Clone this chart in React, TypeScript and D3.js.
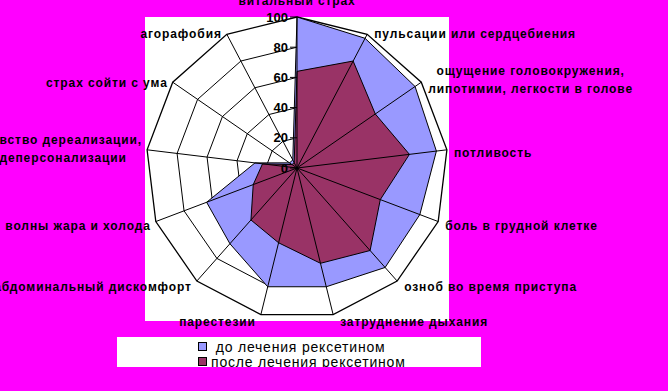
import React from "react";
import * as d3 from "d3";

// radar categories (multi-line labels as arrays of lines)
const categories: string[][] = [
  ["витальный страх"],
  ["пульсации или сердцебиения"],
  ["ощущение головокружения,", "липотимии, легкости в голове"],
  ["потливость"],
  ["боль в грудной клетке"],
  ["озноб во время приступа"],
  ["затруднение дыхания"],
  ["парестезии"],
  ["абдоминальный дискомфорт"],
  ["волны жара и холода"],
  ["чувство дереализации,", "деперсонализации"],
  ["страх сойти с ума"],
  ["агорафобия"],
];
const beforeValues = [100, 97, 95, 93, 87, 88, 81, 81, 67, 64, 28, 6, 6];
const afterValues = [64, 80, 63, 75, 59, 73, 65, 51, 46, 31, 23, 4, 4];
const tickValues = [0, 20, 40, 60, 80, 100];
const seriesNames = [" до лечения рексетином", "после лечения рексетином"];
const seriesColors = ["#9999FF", "#993366"];

const W = 668;
const H = 391;

const App = () => {
  const svgRef = React.useRef<SVGSVGElement>(null);

  React.useEffect(() => {
    const svg = d3.select(svgRef.current);
    svg.selectAll("*").remove();

    const cx = 297;
    const cy = 168;
    const R = 151;
    const n = categories.length;
    const font = "'Liberation Sans', Arial, sans-serif";

    // background + plot area
    svg.append("rect").attr("width", W).attr("height", H).attr("fill", "#FF00FF");
    svg.append("rect").attr("x", 145).attr("y", 17).attr("width", 304).attr("height", 304).attr("fill", "#fff");

    const r = d3.scaleLinear().domain([0, 100]).range([0, R]);
    const angle = d3.scaleLinear().domain([0, n]).range([0, 2 * Math.PI]);
    const radial = d3
      .lineRadial<number>()
      .angle((d, i) => angle(i))
      .radius((d) => r(d))
      .curve(d3.curveLinearClosed);

    const g = svg.append("g").attr("transform", `translate(${cx},${cy})`);

    // rings (behind the series)
    g.selectAll("path.ring")
      .data(tickValues.slice(1))
      .enter()
      .append("path")
      .attr("class", "ring")
      .attr("d", (t) => radial(d3.range(n).map(() => t)))
      .attr("fill", "none")
      .attr("stroke", "#000")
      .attr("stroke-width", (t) => (t === 100 ? 1.3 : 1));

    // filled series
    g.selectAll("path.series")
      .data([beforeValues, afterValues])
      .enter()
      .append("path")
      .attr("class", "series")
      .attr("d", (d) => radial(d))
      .attr("fill", (d, i) => seriesColors[i])
      .attr("stroke", "#000")
      .attr("stroke-width", 1);

    // spokes on top
    g.selectAll("line.spoke")
      .data(d3.range(n))
      .enter()
      .append("line")
      .attr("x1", 0)
      .attr("y1", 0)
      .attr("x2", (i) => r(100) * Math.sin(angle(i)))
      .attr("y2", (i) => -r(100) * Math.cos(angle(i)))
      .attr("stroke", "#000")
      .attr("stroke-width", 1);

    // value axis ticks + labels on the top spoke
    g.selectAll("line.tick")
      .data(tickValues)
      .enter()
      .append("line")
      .attr("x1", -7)
      .attr("x2", 0)
      .attr("y1", (t) => -r(t))
      .attr("y2", (t) => -r(t))
      .attr("stroke", "#000");
    g.selectAll("text.tick")
      .data(tickValues)
      .enter()
      .append("text")
      .attr("x", -9)
      .attr("y", (t) => -r(t))
      .attr("dy", "0.36em")
      .attr("text-anchor", "end")
      .style("font-family", font)
      .style("font-weight", "bold")
      .style("font-size", "13px")
      .text((t) => t);

    // category labels
    categories.forEach((lines, i) => {
      const a = angle(i);
      const s = Math.sin(a);
      const c = Math.cos(a);
      const vx = cx + R * s;
      const vy = cy - R * c;
      const lineH = 18;
      const lbl = svg
        .append("text")
        .style("font-family", font)
        .style("font-weight", "bold")
        .style("font-size", "12px")
        .style("letter-spacing", "0.9px")
        .attr("text-anchor", "middle");
      lines.forEach((ln, k) => {
        lbl
          .append("tspan")
          .attr("x", 0)
          .attr("y", (k - (lines.length - 1) / 2) * lineH)
          .attr("dy", "0.36em")
          .text(ln);
      });
      const bb = (lbl.node() as SVGTextElement).getBBox();
      let ty = vy + 3 - 4 * c;
      if (lines.length > 1) ty -= 3.5;
      let tx;
      if (Math.abs(s) < 0.1) {
        tx = vx;
        ty = vy - 16;
      } else if (s > 0) {
        tx = vx + 7 - bb.x;
      } else {
        tx = vx - 5 - (bb.x + bb.width);
      }
      lbl.attr("transform", `translate(${tx},${ty})`);
    });

    // legend
    svg
      .append("clipPath")
      .attr("id", "legClip")
      .append("rect")
      .attr("x", 117)
      .attr("y", 337)
      .attr("width", 364)
      .attr("height", 30);
    const leg = svg.append("g").attr("clip-path", "url(#legClip)");
    leg.append("rect").attr("x", 117).attr("y", 337).attr("width", 364).attr("height", 30).attr("fill", "#fff");
    const items = leg
      .selectAll("g.item")
      .data(seriesNames)
      .enter()
      .append("g")
      .attr("transform", (d, i) => `translate(198,${342 + i * 15})`);
    items
      .append("rect")
      .attr("x", 0.5)
      .attr("y", 0.5)
      .attr("width", 8)
      .attr("height", 8)
      .attr("fill", (d, i) => seriesColors[i])
      .attr("stroke", "#000");
    items
      .append("text")
      .attr("x", 13)
      .attr("y", 10)
      .style("font-family", font)
      .style("font-size", "14px")
      .style("letter-spacing", "0.8px")
      .style("white-space", "pre")
      .text((d) => d);
  }, []);

  return <svg ref={svgRef} width={W} height={H} style={{ position: "absolute", left: 0, top: 0 }} />;
};

export default App;
